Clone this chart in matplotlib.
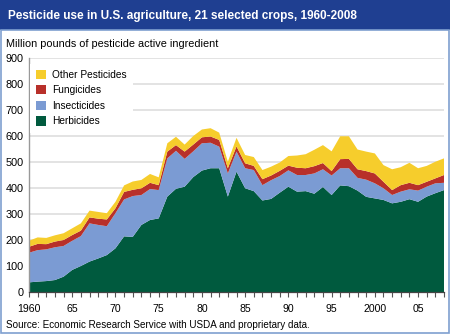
import matplotlib
matplotlib.use("Agg")
import matplotlib.pyplot as plt
from matplotlib.patches import Patch, Rectangle
import numpy as np

plt.rcParams['font.family'] = ['Liberation Sans', 'DejaVu Sans']

years = list(range(1960, 2009))
herbicides = [37, 40, 42, 46, 59, 85, 100, 117, 129, 142, 168, 214, 212, 258, 277, 283,
              367, 397, 405, 442, 467, 476, 476, 367, 463, 399, 388, 352, 358, 382,
              405, 386, 388, 378, 404, 373, 410, 407, 390, 366, 360, 354, 341, 347,
              357, 347, 367, 380, 392]
insecticides = [114, 121, 122, 126, 118, 112, 115, 147, 129, 111, 135, 142, 157, 115, 119, 109,
                147, 146, 107, 99, 105, 98, 83, 89, 77, 77, 81, 59, 72, 64,
                63, 64, 62, 78, 68, 75, 66, 69, 49, 66, 58, 45, 32, 39,
                38, 43, 38, 38, 28]
fungicides = [23, 24, 20, 22, 23, 22, 21, 23, 24, 26, 19, 29, 24, 26, 24, 19,
              26, 22, 28, 26, 23, 24, 26, 20, 20, 19, 16, 23, 18, 20,
              18, 28, 26, 28, 24, 17, 35, 36, 33, 33, 38, 25, 19, 25,
              25, 21, 19, 19, 30]
other = [23, 25, 24, 24, 26, 26, 28, 26, 26, 24, 25, 25, 32, 32, 34, 30,
         32, 32, 27, 33, 30, 32, 28, 25, 33, 32, 34, 35, 34, 32,
         37, 47, 54, 63, 69, 76, 88, 87, 76, 75, 77, 64, 80, 69,
         77, 65, 61, 64, 64]

series_labels = ['Herbicides', 'Insecticides', 'Fungicides', 'Other Pesticides']
colors = ['#005a3e', '#7b9bd3', '#b8302a', '#f6cd2c']

tick_years = [1960, 1965, 1970, 1975, 1980, 1985, 1990, 1995, 2000, 2005]
tick_labels = ['1960', '65', '70', '75', '80', '85', '90', '95', '2000', '05']

title = 'Pesticide use in U.S. agriculture, 21 selected crops, 1960-2008'
subtitle = 'Million pounds of pesticide active ingredient'
source = 'Source: Economic Research Service with USDA and proprietary data.'

W, H = 450, 334
fig = plt.figure(figsize=(W / 100, H / 100), dpi=100)
fig.patch.set_facecolor('white')

# title bar
fig.patches.append(Rectangle((0, 1 - 30 / H), 1, 30 / H, transform=fig.transFigure,
                             facecolor='#1f3f91', edgecolor='none', zorder=0))
# border
fig.patches.append(Rectangle((0.5 / W, 1.5 / H), (W - 2) / W, (H - 31) / H,
                             transform=fig.transFigure, facecolor='none',
                             edgecolor='#7f9fcf', linewidth=1.2, zorder=0))

fig.text(8 / W, 1 - 15.5 / H, title, color='white', fontsize=8.5, fontweight='bold',
         va='center', ha='left')
fig.text(6 / W, 1 - 44 / H, subtitle, color='black', fontsize=7.8, va='center', ha='left')
fig.text(6 / W, 1 - 325 / H, source, color='black', fontsize=7.15, va='center', ha='left')

ax = fig.add_axes([29 / W, (H - 292) / H, (444 - 29) / W, (292 - 58) / H])
ax.set_facecolor('white')
ax.stackplot(years, herbicides, insecticides, fungicides, other, colors=colors,
             linewidth=0, zorder=2)

ax.set_xlim(1960, 2008)
ax.set_ylim(0, 900)
ax.set_yticks(range(0, 901, 100))
ax.yaxis.grid(True, color='#dedede', linewidth=1.2, zorder=0)
ax.set_axisbelow(True)
ax.tick_params(axis='y', length=0, pad=4, labelsize=7.8, colors='black')
ax.set_xticks(tick_years)
ax.set_xticklabels(tick_labels)
ax.set_xticks(years, minor=True)
ax.tick_params(axis='x', which='both', length=3.5, width=0.8, color='#555555',
               direction='out', pad=5, labelsize=7.6)
for s in ['top', 'right']:
    ax.spines[s].set_visible(False)
ax.spines['left'].set_color('#999999')
ax.spines['left'].set_linewidth(1.0)
ax.spines['bottom'].set_color('#444444')
ax.spines['bottom'].set_linewidth(0.9)
ax.spines['bottom'].set_zorder(5)

handles = [Patch(facecolor=colors[i], edgecolor='none', label=series_labels[i])
           for i in [3, 2, 1, 0]]
leg = ax.legend(handles=handles, loc='upper left', bbox_to_anchor=(0.003, 0.976),
                frameon=True, facecolor='white', edgecolor='none', framealpha=1,
                fontsize=7.3, handlelength=1.0, handleheight=1.0, handletextpad=0.55,
                labelspacing=0.55, borderaxespad=0, borderpad=0.6)
leg.get_frame().set_boxstyle('square', pad=0)
leg.set_zorder(4)

fig.savefig('out.png', dpi=100, facecolor='white')
